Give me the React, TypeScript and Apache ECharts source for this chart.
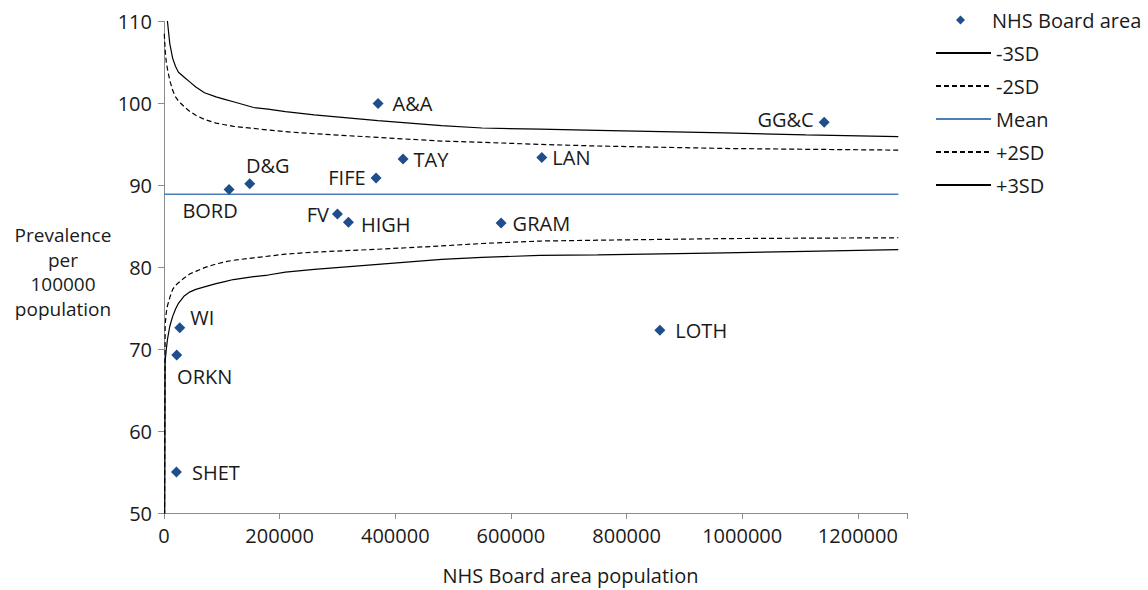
import React, { useEffect, useRef } from "react";
import * as echarts from "echarts";

// NHS Board areas: population and prevalence per 100000
const BOARDS = ["A&A", "BORD", "D&G", "FIFE", "FV", "GRAM", "GG&C", "HIGH", "LAN", "LOTH", "ORKN", "SHET", "TAY", "WI"];
const BOARD_POPULATION = [370200, 112500, 148300, 366800, 300000, 583000, 1141800, 319000, 653400, 857600, 22000, 21500, 413500, 27200];
const BOARD_PREVALENCE = [100.0, 89.5, 90.2, 90.9, 86.5, 85.4, 97.7, 85.5, 93.4, 72.3, 69.3, 55.0, 93.2, 72.6];

// Funnel control limits, evaluated at these populations
const LIMIT_POPULATION = [
  500, 2000, 4000, 6000, 10000, 15000, 20000, 25000, 35000, 45000, 55000, 70000, 90000, 105000,
  120000, 155000, 180000, 210000, 260000, 370000, 480000, 550000, 650000, 750000, 970000, 1110000, 1270000,
];
const PLUS_3SD = [
  135, 118, 112, 110, 107.3, 105.5, 104.5, 103.8, 103.2, 102.6, 102.0, 101.3, 100.8, 100.5,
  100.2, 99.5, 99.3, 99.0, 98.6, 97.9, 97.3, 97.0, 96.85, 96.7, 96.4, 96.15, 95.95,
];
const PLUS_2SD = [
  108.5, 106.5, 105.0, 104.2, 102.8, 101.6, 100.8, 100.3, 99.6, 99.0, 98.55, 98.05, 97.6, 97.4,
  97.2, 96.95, 96.75, 96.55, 96.3, 95.85, 95.4, 95.25, 95.0, 94.8, 94.5, 94.4, 94.3,
];
const MINUS_2SD = [
  40, 73.0, 74.5, 75.3, 76.3, 77.3, 77.8, 78.1, 78.7, 79.2, 79.5, 79.95, 80.4, 80.65,
  80.85, 81.15, 81.35, 81.6, 81.85, 82.2, 82.6, 82.9, 83.2, 83.3, 83.5, 83.55, 83.6,
];
const MINUS_3SD = [
  30, 68.5, 70.0, 71.2, 72.8, 74.0, 74.9, 75.6, 76.5, 77.0, 77.3, 77.6, 78.0, 78.25,
  78.5, 78.85, 79.05, 79.4, 79.75, 80.35, 80.95, 81.2, 81.45, 81.5, 81.75, 81.95, 82.15,
];
const MEAN_PREVALENCE = 88.9;
const MEAN_POPULATION = [0, 1270000];

const X_MAX = 1285000;
const X_STEP = 200000;
const Y_MIN = 50;
const Y_MAX = 110;
const Y_STEP = 10;
const Y_TITLE = "Prevalence\nper\n100000\npopulation";

const FONT = "'Open Sans', sans-serif";
const TEXT_COLOR = "#1a1a1a";
const POINT_COLOR = "#1f4e8c";
const MEAN_COLOR = "#4a7ebb";
const AXIS_COLOR = "#8c8c8c";

type Placement = { position: string; offset: [number, number] };
const LABEL_PLACEMENT: Record<string, Placement> = {
  "A&A": { position: "right", offset: [4, 0] },
  BORD: { position: "bottom", offset: [-19, 1] },
  "D&G": { position: "top", offset: [18, 2] },
  FIFE: { position: "left", offset: [0, 0] },
  FV: { position: "left", offset: [2, 0] },
  GRAM: { position: "right", offset: [1, 0] },
  "GG&C": { position: "left", offset: [0, -3] },
  HIGH: { position: "right", offset: [2, 2] },
  LAN: { position: "right", offset: [0, 0] },
  LOTH: { position: "right", offset: [5, 0] },
  ORKN: { position: "bottom", offset: [28, 1] },
  SHET: { position: "right", offset: [5, 0] },
  TAY: { position: "right", offset: [0, 0] },
  WI: { position: "right", offset: [0, -10] },
};

const pairs = (xs: number[], ys: number[]) => xs.map((x, i) => [x, ys[i]]);

export default function App() {
  const ref = useRef<HTMLDivElement>(null);

  useEffect(() => {
    if (!ref.current) return;
    const chart = echarts.init(ref.current, undefined, { renderer: "svg" });

    const boardPoints = BOARDS.map((name, i) => {
      const p = LABEL_PLACEMENT[name];
      return {
        name,
        value: [BOARD_POPULATION[i], BOARD_PREVALENCE[i]],
        label: { position: p.position, offset: p.offset },
      };
    });

    const limitLine = (name: string, values: number[], dashed: boolean) => ({
      name,
      type: "line",
      data: pairs(LIMIT_POPULATION, values),
      symbol: "none",
      showSymbol: false,
      clip: true,
      lineStyle: { color: "#000", width: 1.2, type: dashed ? [5, 3] : "solid" },
      itemStyle: { color: "#000" },
      z: 2,
    });

    const legendText = { fontFamily: FONT, fontSize: 20, color: TEXT_COLOR, lineHeight: 24 };

    chart.setOption({
      animation: false,
      textStyle: { fontFamily: FONT },
      grid: { left: 164, top: 21.5, right: 241, bottom: 74, containLabel: false },
      graphic: [
        {
          type: "text",
          x: 63,
          y: 272,
          style: {
            text: Y_TITLE,
            fontFamily: FONT,
            fontSize: 19,
            fill: TEXT_COLOR,
            align: "center",
            verticalAlign: "middle",
            lineHeight: 24.5,
          },
        },
      ],
      legend: [
        {
          data: ["NHS Board area"],
          orient: "vertical",
          left: 956,
          top: 8,
          padding: 0,
          itemWidth: 9,
          itemHeight: 9,
          textStyle: { ...legendText, padding: [0, 0, 0, 22] },
        },
        {
          data: ["-3SD", "-2SD", "Mean", "+2SD", "+3SD"],
          orient: "vertical",
          left: 935,
          top: 41,
          padding: 0,
          itemWidth: 55,
          itemHeight: 14,
          itemGap: 9,
          itemStyle: { opacity: 0 },
          textStyle: legendText,
        },
      ],
      xAxis: {
        type: "value",
        min: 0,
        max: X_MAX,
        interval: X_STEP,
        name: "NHS Board area population",
        nameLocation: "middle",
        nameGap: 52,
        nameTextStyle: { fontFamily: FONT, fontSize: 20, color: TEXT_COLOR, padding: [0, 0, 0, 70] },
        axisLine: { lineStyle: { color: AXIS_COLOR, width: 1 } },
        axisTick: { show: true, inside: false, length: 6, lineStyle: { color: AXIS_COLOR } },
        axisLabel: {
          margin: 12,
          fontFamily: FONT,
          fontSize: 20,
          color: TEXT_COLOR,
          formatter: (v: number) => (v % X_STEP === 0 ? String(v) : ""),
        },
        splitLine: { show: false },
      },
      yAxis: {
        type: "value",
        min: Y_MIN,
        max: Y_MAX,
        interval: Y_STEP,
        axisLine: { show: true, lineStyle: { color: AXIS_COLOR, width: 1 } },
        axisTick: { show: true, inside: false, length: 6, lineStyle: { color: AXIS_COLOR } },
        axisLabel: { margin: 12, fontFamily: FONT, fontSize: 20, color: TEXT_COLOR },
        splitLine: { show: false },
      },
      series: [
        {
          name: "NHS Board area",
          type: "scatter",
          symbol: "diamond",
          symbolSize: 11,
          itemStyle: { color: POINT_COLOR, opacity: 1 },
          data: boardPoints,
          label: {
            show: true,
            formatter: "{b}",
            fontFamily: FONT,
            fontSize: 20,
            color: TEXT_COLOR,
          },
          z: 5,
        },
        limitLine("-3SD", MINUS_3SD, false),
        limitLine("-2SD", MINUS_2SD, true),
        {
          name: "Mean",
          type: "line",
          data: MEAN_POPULATION.map((x) => [x, MEAN_PREVALENCE]),
          symbol: "none",
          showSymbol: false,
          lineStyle: { color: MEAN_COLOR, width: 1.5 },
          itemStyle: { color: MEAN_COLOR },
          z: 2,
        },
        limitLine("+2SD", PLUS_2SD, true),
        limitLine("+3SD", PLUS_3SD, false),
      ],
    });

    return () => chart.dispose();
  }, []);

  return (
    <div
      ref={ref}
      style={{ position: "fixed", left: 0, top: 0, width: 1148, height: 590, background: "#fff" }}
    />
  );
}
